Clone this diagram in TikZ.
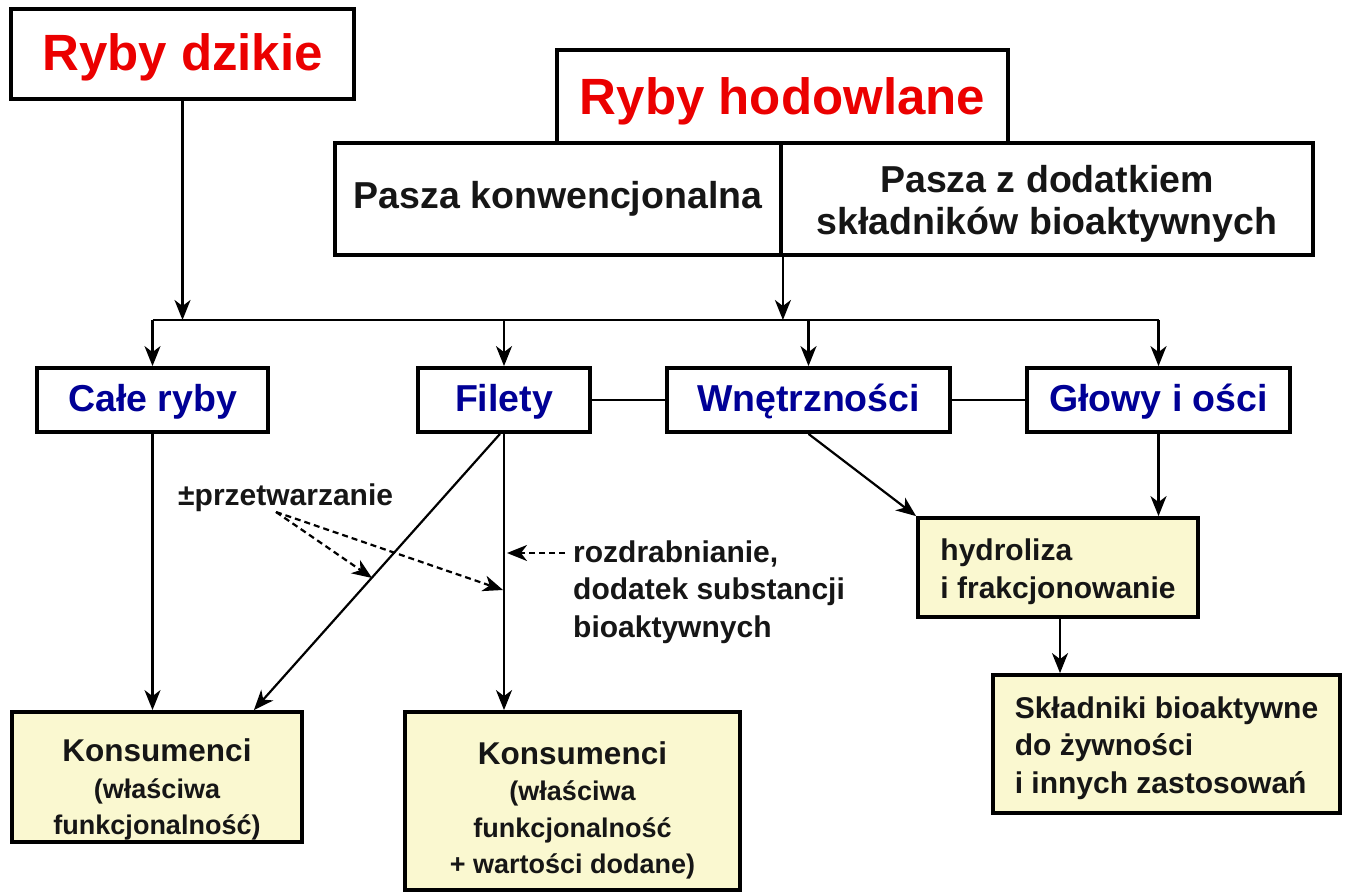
\documentclass[tikz,border=0pt]{standalone}
\usepackage{fontspec}
\setmainfont{Liberation Sans}
\usetikzlibrary{arrows.meta,calc}
\definecolor{tred}{RGB}{235,0,0}
\definecolor{tblue}{RGB}{0,0,150}
\definecolor{tfill}{RGB}{250,248,208}
\definecolor{tink}{RGB}{22,22,22}
\begin{document}
\begin{tikzpicture}[x=1pt,y=-1pt,
  box/.style={draw=black, line width=3.8pt, inner sep=0pt, fill=white, text=tink, font=\bfseries},
  ybox/.style={box, fill=tfill},
  conn/.style={line width=2.2pt, draw=black},
  arr/.style={conn, -{Stealth[length=20pt,width=16pt,inset=6pt]}},
  darr/.style={line width=2.2pt, dash pattern=on 6pt off 4pt, -{Stealth[length=20pt,width=16pt,inset=6pt]}},
  title/.style={font=\fontsize{51}{56}\selectfont\bfseries, text=tred},
  blue/.style={font=\fontsize{37.5}{42}\selectfont\bfseries, text=tblue},
  feed/.style={font=\fontsize{37.5}{42}\selectfont\bfseries},
  small/.style={font=\fontsize{30}{37.5}\selectfont\bfseries, text=tink},
  cons/.style={font=\fontsize{27}{36.5}\selectfont\bfseries}
]
\useasboundingbox (0,0) rectangle (1346,893);
\fill[white] (0,0) rectangle (1346,893);

% top
\node[box, title, minimum width=343.5pt, minimum height=90.5pt] (dz) at (182.5,54)
  {\rule{0pt}{44pt}Ryby dzikie};
\node[box, title, minimum width=451.5pt, minimum height=93pt] (hod) at (782.5,96.5)
  {\rule{0pt}{46pt}Ryby hodowlane};
\node[box, feed, minimum width=446pt, minimum height=112pt] (pk) at (558,199) {Pasza konwencjonalna};
\node[box, feed, minimum width=532pt, minimum height=112pt, align=center] (pd) at (1047,199)
  {\rule{0pt}{37pt}Pasza z dodatkiem\\składników bioaktywnych};

% middle row
\node[box, blue, minimum width=231pt, minimum height=64pt] (cr) at (152.5,400) {\rule{0pt}{30pt}Całe ryby};
\node[box, blue, minimum width=172pt, minimum height=64pt] (fi) at (504,400) {\rule{0pt}{30pt}Filety};
\node[box, blue, minimum width=283pt, minimum height=64pt] (wn) at (808.5,400) {\rule{0pt}{30pt}Wnętrzności};
\node[box, blue, minimum width=263pt, minimum height=64pt] (gl) at (1158.5,400) {\rule{0pt}{30pt}Głowy i ości};

% yellow boxes
\node[ybox, cons, minimum width=290pt, minimum height=130pt, align=center] (k1) at (157,777)
  {{\fontsize{31.5}{36}\selectfont\rule{0pt}{48pt}Konsumenci}\\(właściwa\\funkcjonalność)};
\node[ybox, cons, minimum width=335pt, minimum height=178pt, align=center] (k2) at (572.5,801)
  {{\fontsize{31.5}{36}\selectfont\rule{0pt}{42pt}Konsumenci}\\(właściwa\\funkcjonalność\\+ wartości dodane)};
\node[ybox, small, minimum width=280pt, minimum height=99pt, align=left] (hy) at (1058,567.5)
  {\rule{0pt}{30pt}hydroliza\\i frakcjonowanie};
\node[ybox, small, minimum width=347pt, minimum height=138pt, align=left] (sk) at (1166.5,744)
  {\rule{0pt}{30pt}Składniki bioaktywne\\do żywności\\i innych zastosowań};

% labels
\node[small, anchor=west, inner sep=0pt] (prz) at (178,498) {±przetwarzanie};
\node[small, anchor=west, inner sep=0pt, align=left] (roz) at (573,592)
  {rozdrabnianie,\\dodatek substancji\\bioaktywnych};

% bus
\coordinate (bus) at (0,320);
\draw[conn] (cr.north |- bus) -- (gl.north |- bus);
\draw[arr] (dz.south) -- (dz.south |- bus);
\draw[arr] (pk.south east) -- (pk.south east |- bus);
\draw[arr] (cr.north |- bus) -- (cr.north);
\draw[arr] (fi.north |- bus) -- (fi.north);
\draw[arr] (wn.north |- bus) -- (wn.north);
\draw[arr] (gl.north |- bus) -- (gl.north);

% horizontal links
\draw[conn] (fi.east) -- (wn.west);
\draw[conn] (wn.east) -- (gl.west);

% downward flows
\draw[arr] (cr.south) -- (cr.south |- k1.north);
\coordinate (k1t) at ($(k1.north east)+(-50,0)$);
\draw[arr] ($(fi.south)+(-4,0)$) -- (k1t);
\draw[arr] (fi.south) -- (fi.south |- k2.north);
\draw[arr] (wn.south) -- (hy.north west);
\draw[arr] (gl.south) -- (gl.south |- hy.north);
\coordinate (hyb) at ($(hy.south)+(2,0)$);
\draw[arr] (hyb) -- (hyb |- sk.north);

% dashed
\coordinate (p1) at (276,512);
\coordinate (t1) at (372,578);
\coordinate (t2) at (503,590);
\draw[darr] (p1) -- (t1);
\draw[darr] (p1) -- (t2);
\coordinate (t3) at (507,553);
\draw[darr] (565,553) -- (t3);
\end{tikzpicture}
\end{document}
